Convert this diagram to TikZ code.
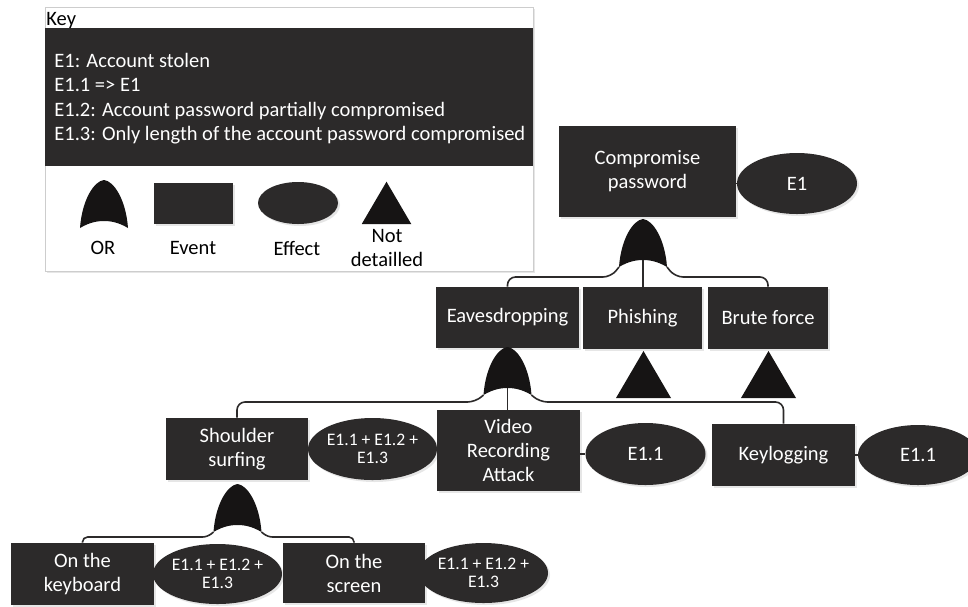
\documentclass[tikz,border=0pt]{standalone}
\usepackage{fontspec}
\setmainfont{Carlito}
\usetikzlibrary{
    shapes.geometric,
    shadows
}

\definecolor{boxfill}{RGB}{44,42,42}
\definecolor{gatefill}{RGB}{22,20,20}
\definecolor{keyframe}{RGB}{205,205,205}

\tikzset{
    event/.style={rectangle, fill=boxfill, text=white, align=center, inner sep=1pt,
        font=\fontsize{10.25}{12}\selectfont, minimum width=71.5pt, minimum height=31pt,
        drop shadow={shadow xshift=1pt, shadow yshift=-1pt, opacity=0.2}},
    effect/.style={ellipse, fill=boxfill, text=white, align=center, inner sep=0pt,
        font=\fontsize{10.25}{12}\selectfont, minimum width=60pt, minimum height=30.5pt,
        drop shadow={shadow xshift=1pt, shadow yshift=-1pt, opacity=0.2}},
    smalleff/.style={effect, font=\fontsize{8.8}{9.3}\selectfont},
    keylabel/.style={align=center, inner sep=0pt, font=\fontsize{10.25}{12}\selectfont},
    link/.style={draw=boxfill, line width=0.8pt, rounded corners=4pt},
    orgate/.pic={
        \fill[gatefill] (-24,0) .. controls (-22,-28) and (-10,-47) .. (0,-48)
            .. controls (10,-47) and (22,-28) .. (24,0)
            .. controls (14,-6) and (6,-7) .. (0,-7)
            .. controls (-6,-7) and (-14,-6) .. (-24,0) -- cycle;
        \coordinate (-l) at (-24,0);
        \coordinate (-r) at (24,0);
        \coordinate (-m) at (0,-7);
    },
    notdet/.pic={
        \fill[gatefill] (-27.5,0) -- (0,-47) -- (27.5,0) -- cycle;
    }
}

\begin{document}
\begin{tikzpicture}[x=0.5pt,y=-0.5pt]

\useasboundingbox (0,0) rectangle (968,606);

% Key
\draw[keyframe, fill=white, drop shadow={shadow xshift=1pt, shadow yshift=-1pt, opacity=0.2}]
    (45,7) rectangle (533,271);
\node[anchor=base west, inner sep=0pt, font=\fontsize{10.25}{12}\selectfont] (keytitle) at (46,25) {Key};
\fill[boxfill] (45,28) rectangle (533,166);
\foreach \txt [count=\i] in {E1: Account stolen, E1.1 => E1,
    E1.2: Account password partially compromised,
    E1.3: Only length of the account password compromised}
    \node[anchor=base west, inner sep=0pt, text=white, font=\fontsize{10.25}{12}\selectfont]
        (keyline\i) at (54,42.5+24.5*\i) {\txt};

% Key symbols
\pic (keyor) at (104,228) {orgate};
\node[event, minimum width=39.5pt, minimum height=20.5pt] (keyevent) at (193.5,203.5) {};
\node[effect, minimum width=40pt, minimum height=21pt] (keyeffect) at (298,203) {};
\pic[scale=0.9] (keynd) at (386.5,224) {notdet};
\node[keylabel] (keyorlbl) at (103,248) {OR};
\node[keylabel] (keyevlbl) at (193,248) {Event};
\node[keylabel] (keyeflbl) at (297,248) {Effect};
\node[keylabel] (keyndlbl) at (387,248) {Not\\detailled};

% Top event
\node[event, minimum width=88.5pt, minimum height=45.5pt] (comp) at (647.5,171.5) {Compromise\\password};
\node[effect] (compeff) at (797,183.5) {E1};
\draw[link] (comp.east |- compeff.west) -- (compeff.west);
\pic (g1) at (643,267) {orgate};

% Second level
\node[event, minimum height=30.5pt] (eaves) at (507.5,317.5) {Eavesdropping};
\node[event, minimum width=59.5pt] (phish) at (642.5,318) {Phishing};
\node[event, minimum width=60pt] (brute) at (768,318) {Brute force};
\pic (phishnd) at (643.5,398) {notdet};
\pic (brutend) at (768.5,398) {notdet};
\draw[link] (g1-l) -- ++(-8,10) -| (eaves.north);
\draw[link] (g1-r) -- ++(8,10) -| (brute.north);
\draw[link] (g1-m) -- (g1-m |- phish.north);
\pic (g2) at (507.5,395) {orgate};

% Third level
\node[event, minimum width=71pt] (shoulder) at (237,449) {Shoulder\\surfing};
\node[smalleff, minimum width=60.5pt, minimum height=31pt] (shouldeff) at (372.5,449) {E1.1 + E1.2 +\\E1.3};
\node[event, minimum height=40.5pt] (video) at (508.5,450.5) {Video\\Recording\\Attack};
\node[effect, minimum height=31pt] (videff) at (645.5,454) {E1.1};
\node[event] (keylog) at (783.5,455) {Keylogging};
\node[effect, minimum height=30pt] (keylogeff) at (918,455) {E1.1};
\draw[link] (shoulder.east |- shouldeff.west) -- (shouldeff.west);
\draw[link] (video.east |- videff.west) -- (videff.west);
\draw[link] (keylog.east |- keylogeff.west) -- (keylogeff.west);
\draw[link] (g2-l) -- ++(-8,7) -| (shoulder.north);
\draw[link] (g2-r) -- ++(8,7) -| (keylog.north);
\draw[link] (g2-m) -- (g2-m |- video.north);
\pic (g3) at (237.5,532) {orgate};

% Bottom level
\node[event, minimum height=31pt] (keyboard) at (82.5,574) {On the\\keyboard};
\node[smalleff, minimum width=59.5pt, minimum height=30pt] (keyboardeff) at (217.5,574) {E1.1 + E1.2 +\\E1.3};
\node[event, minimum width=71pt, minimum height=30pt] (screen) at (354,573) {On the\\screen};
\node[smalleff, minimum width=56.5pt, minimum height=30pt] (screeneff) at (483.5,573) {E1.1 + E1.2 +\\E1.3};
\draw[link] (keyboard.east |- keyboardeff.west) -- (keyboardeff.west);
\draw[link] (screen.east |- screeneff.west) -- (screeneff.west);
\draw[link, rounded corners=2.5pt] (g3-l) -- ++(-6,5) -| (keyboard.north);
\draw[link, rounded corners=2.5pt] (g3-r) -- ++(6,5) -| (screen.north);

\end{tikzpicture}
\end{document}
